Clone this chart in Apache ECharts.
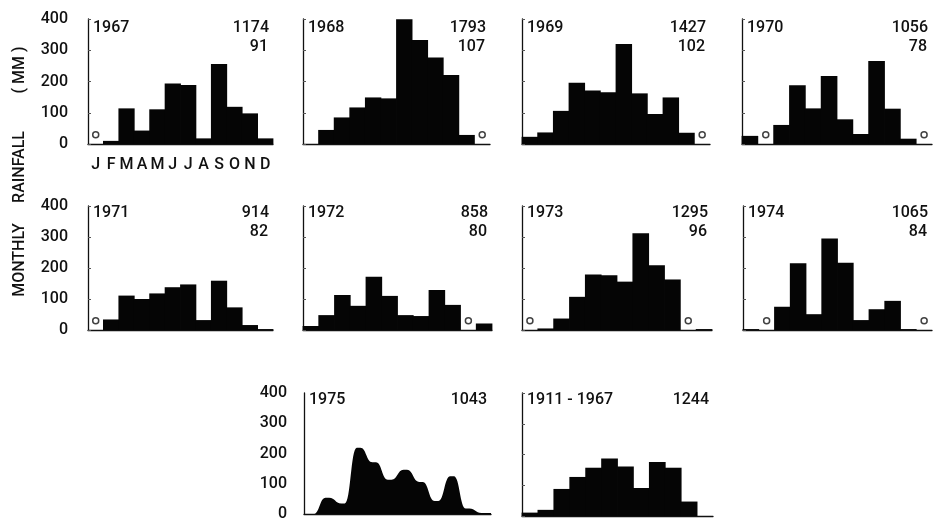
<!DOCTYPE html>
<html><head><meta charset="utf-8">
<script src="https://cdn.jsdelivr.net/npm/echarts@6/dist/echarts.min.js"></script>
<style>html,body{margin:0;padding:0;background:#fff}#c{width:936px;height:522px}</style>
</head><body><div id="c"></div>
<script>
// ---------- data ----------
const monthNames = ['Jan','Feb','Mar','Apr','May','Jun','Jul','Aug','Sep','Oct','Nov','Dec'];
const yTicks = [0, 100, 200, 300, 400];
const yearLabels = ['1967','1968','1969','1970','1971','1972','1973','1974','1975','1911 - 1967'];
const rain1967 = [0, 10, 114, 43, 111, 194, 189, 18, 256, 119, 98, 18];
const rain1968 = [0, 45, 85, 117, 149, 146, 399, 333, 277, 221, 29, 0];
const rain1969 = [23, 37, 106, 196, 171, 166, 320, 162, 96, 149, 36, 0];
const rain1970 = [26, 0, 61, 188, 114, 218, 79, 32, 266, 113, 17, 0];
const rain1971 = [0, 34, 111, 100, 118, 138, 147, 32, 159, 73, 16, 3];
const rain1972 = [13, 48, 113, 78, 172, 110, 48, 45, 129, 81, 0, 21];
const rain1973 = [0, 5, 37, 107, 179, 177, 156, 312, 209, 163, 0, 3];
const rain1974 = [3, 0, 75, 215, 51, 295, 217, 32, 67, 94, 3, 0];
const rain1975 = [0, 54, 35, 219, 171, 113, 146, 106, 43, 125, 18, 3];
const rainMean = [11, 20, 88, 127, 157, 187, 161, 91, 176, 157, 47, 0];
// months (index) marked with a small circle (no rain)
const dry1967 = [0];
const dry1968 = [11];
const dry1969 = [11];
const dry1970 = [1, 11];
const dry1971 = [0];
const dry1972 = [10];
const dry1973 = [0, 10];
const dry1974 = [1, 11];
const dry1975 = [];
const dryMean = [];
const annualTotals = [1174, 1793, 1427, 1056, 914, 858, 1295, 1065, 1043, 1244];
const rainDays = [91, 107, 102, 78, 82, 80, 96, 84, null, null];
const dryMarkLevel = 30;

const rainSets = [rain1967, rain1968, rain1969, rain1970, rain1971, rain1972, rain1973, rain1974, rain1975, rainMean];
const drySets = [dry1967, dry1968, dry1969, dry1970, dry1971, dry1972, dry1973, dry1974, dry1975, dryMean];

// ---------- layout ----------
const layout = [
  {left: 88,  top: 19,  width: 185, height: 125, yLabels: true, xLabels: true},
  {left: 303, top: 19,  width: 187, height: 125},
  {left: 522, top: 19,  width: 188, height: 125},
  {left: 742, top: 19,  width: 190, height: 125},
  {left: 88,  top: 206, width: 185, height: 124, yLabels: true},
  {left: 303, top: 206, width: 189, height: 124},
  {left: 522, top: 206, width: 190, height: 124},
  {left: 743, top: 206, width: 189, height: 124},
  {left: 304, top: 393, width: 187, height: 123, yLabels: true, smooth: true},
  {left: 522, top: 393, width: 191, height: 123}
];

const INK = '#111';
const BAR = '#050505';
const NUM_FONT = 'Roboto, "DejaVu Sans", sans-serif';

const grids = [], xAxes = [], yAxes = [], series = [], graphics = [];

layout.forEach((L, i) => {
  grids.push({left: L.left, top: L.top, width: L.width, height: L.height, containLabel: false});
  if (L.smooth) {
    xAxes.push({type: 'value', gridIndex: i, min: 0, max: 12,
      axisLine: {show: true, lineStyle: {color: INK, width: 1.3}},
      axisTick: {show: false}, axisLabel: {show: false}, splitLine: {show: false}});
  } else {
    xAxes.push({type: 'category', gridIndex: i, data: monthNames, boundaryGap: true,
      axisLine: {show: true, lineStyle: {color: INK, width: 1.3}},
      axisTick: {show: false},
      axisLabel: {show: !!L.xLabels, interval: 0, margin: 13, color: INK, fontSize: 16,
        fontWeight: 500, fontFamily: NUM_FONT, formatter: v => v.charAt(0)},
      splitLine: {show: false}});
  }
  yAxes.push({type: 'value', gridIndex: i, min: yTicks[0], max: yTicks[yTicks.length - 1], interval: 100,
    axisLine: {show: true, lineStyle: {color: INK, width: 1.3}},
    axisTick: {show: !L.smooth, inside: true, length: 3, lineStyle: {color: '#555', width: 1}},
    axisLabel: {show: !!L.yLabels, margin: L.smooth ? 17 : 20, color: INK, fontSize: 16,
      fontWeight: 500, fontFamily: NUM_FONT},
    splitLine: {show: false}});

  const vals = rainSets[i];
  if (L.smooth) {
    series.push({type: 'custom', xAxisIndex: i, yAxisIndex: i, data: [[0, 0]], silent: true,
      renderItem: function (params, api) {
        const r = 6;
        const pt = (x, v) => api.coord([x, v]);
        const b0 = pt(0, 0);
        let d = 'M' + b0[0] + ',' + b0[1];
        const p0 = pt(0, vals[0]);
        d += ' L' + p0[0] + ',' + p0[1];
        for (let b = 1; b < 12; b++) {
          const a = pt(b, vals[b - 1]), c = pt(b, vals[b]);
          d += ' L' + (a[0] - r) + ',' + a[1] +
               ' C' + a[0] + ',' + a[1] + ' ' + c[0] + ',' + c[1] + ' ' + (c[0] + r) + ',' + c[1];
        }
        const e = pt(12, vals[11]), e0 = pt(12, 0);
        d += ' L' + e[0] + ',' + e[1] + ' L' + e0[0] + ',' + e0[1] + ' Z';
        return {type: 'path', shape: {pathData: d}, style: {fill: BAR}};
      }});
  } else {
    // contiguous histogram bars (custom rects, slightly overlapped to avoid seams)
    series.push({type: 'custom', xAxisIndex: i, yAxisIndex: i, silent: true,
      data: vals.map((v, m) => [m, v]),
      renderItem: function (params, api) {
        const v = api.value(1);
        if (!v) return null;
        const top = api.coord([api.value(0), v]);
        const base = api.coord([api.value(0), 0]);
        const w = api.size([1, 0])[0];
        return {type: 'rect',
          shape: {x: top[0] - w / 2 - 0.4, y: top[1], width: w + 0.8, height: base[1] - top[1]},
          style: {fill: BAR}};
      }});
  }
  if (drySets[i].length) {
    series.push({type: 'scatter', xAxisIndex: i, yAxisIndex: i, silent: true, z: 5,
      data: drySets[i].map(m => [m, dryMarkLevel]), symbol: 'circle', symbolSize: 6,
      itemStyle: {color: '#fff', borderColor: INK, borderWidth: 1.5}});
  }

  // texts
  const textStyle = (txt, x, y, align) => ({type: 'text', x: x, y: y, silent: true,
    style: {text: txt, fill: INK, fontSize: 16, fontWeight: 500, fontFamily: NUM_FONT,
      align: align, textAlign: align, verticalAlign: 'middle', textVerticalAlign: 'middle'}});
  const rowOff = L.top < 100 ? 9 : 7;
  graphics.push(textStyle(yearLabels[i], L.left + 5, L.top + rowOff, 'left'));
  graphics.push(textStyle(String(annualTotals[i]), L.left + L.width - 4, L.top + rowOff, 'right'));
  if (rainDays[i] != null) {
    graphics.push(textStyle(String(rainDays[i]), L.left + L.width - 5, L.top + rowOff + 19, 'right'));
  }
});

// y-axis title
const titleParts = [['MONTHLY', 260], ['RAINFALL', 167], ['( MM )', 70]];
titleParts.forEach(([t, cy]) => {
  graphics.push({type: 'text', x: 20, y: cy, rotation: Math.PI / 2, silent: true,
    style: {text: t, fill: INK, fontSize: 16, fontWeight: 500, fontFamily: NUM_FONT,
      align: 'center', textAlign: 'center', verticalAlign: 'middle', textVerticalAlign: 'middle'}});
});

const chart = echarts.init(document.getElementById('c'), null, {renderer: 'canvas'});
chart.setOption({
  animation: false,
  backgroundColor: '#fff',
  grid: grids, xAxis: xAxes, yAxis: yAxes, series: series,
  graphic: {elements: graphics}
});
</script>
</body></html>
